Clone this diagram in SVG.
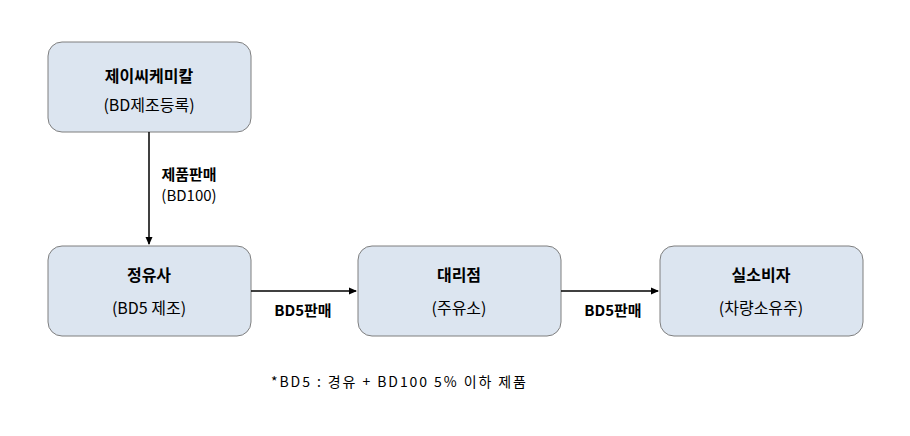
<svg xmlns="http://www.w3.org/2000/svg" width="910" height="436" viewBox="0 0 910 436">
<style>
.box{fill:#dce5f0;stroke:#7f7f7f;stroke-width:1}
.t{font-family:"Noto Sans CJK KR","Noto Sans",sans-serif;font-size:16px;text-anchor:middle;fill:#000}
.b{font-weight:bold}
.c{stroke:#000;stroke-width:1.5;fill:none;marker-end:url(#a)}
</style>
<defs><marker id="a" markerWidth="8" markerHeight="8" refX="7" refY="4" orient="auto" markerUnits="userSpaceOnUse"><path d="M0,0.5 L8,4 L0,7.5 Z" fill="#000"/></marker></defs>
<rect width="910" height="436" fill="#fff"/>
<g id="n1"><rect class="box" x="48" y="42" width="203" height="90" rx="14"/><text class="t b" x="149" y="82">제이씨케미칼</text><text class="t" x="149" y="111">(BD제조등록)</text></g>
<g id="n2"><rect class="box" x="48" y="246" width="203" height="90" rx="14"/><text class="t b" x="149" y="281">정유사</text><text class="t" x="149" y="314">(BD5 제조)</text></g>
<g id="n3"><rect class="box" x="358" y="246" width="203" height="90" rx="14"/><text class="t b" x="459" y="281">대리점</text><text class="t" x="459" y="314">(주유소)</text></g>
<g id="n4"><rect class="box" x="660" y="246" width="203" height="90" rx="14"/><text class="t b" x="761" y="281">실소비자</text><text class="t" x="761" y="314">(차량소유주)</text></g>
<g id="connectors">
<line class="c" x1="149" y1="132" x2="149" y2="244"/>
<line class="c" x1="251" y1="291" x2="356" y2="291"/>
<line class="c" x1="561" y1="291" x2="658" y2="291"/>
<text class="t b" x="189" y="180" style="font-size:15px">제품판매</text>
<text class="t" x="189" y="201" style="font-size:15px">(BD100)</text>
<text class="t b" x="303" y="316" style="font-size:15px">BD5판매</text>
<text class="t b" x="613" y="316" style="font-size:15px">BD5판매</text>
</g>
<text class="t" x="271" y="387" textLength="255" style="font-size:14px;text-anchor:start">*BD5 : 경유 + BD100 5% 이하 제품</text>
</svg>
